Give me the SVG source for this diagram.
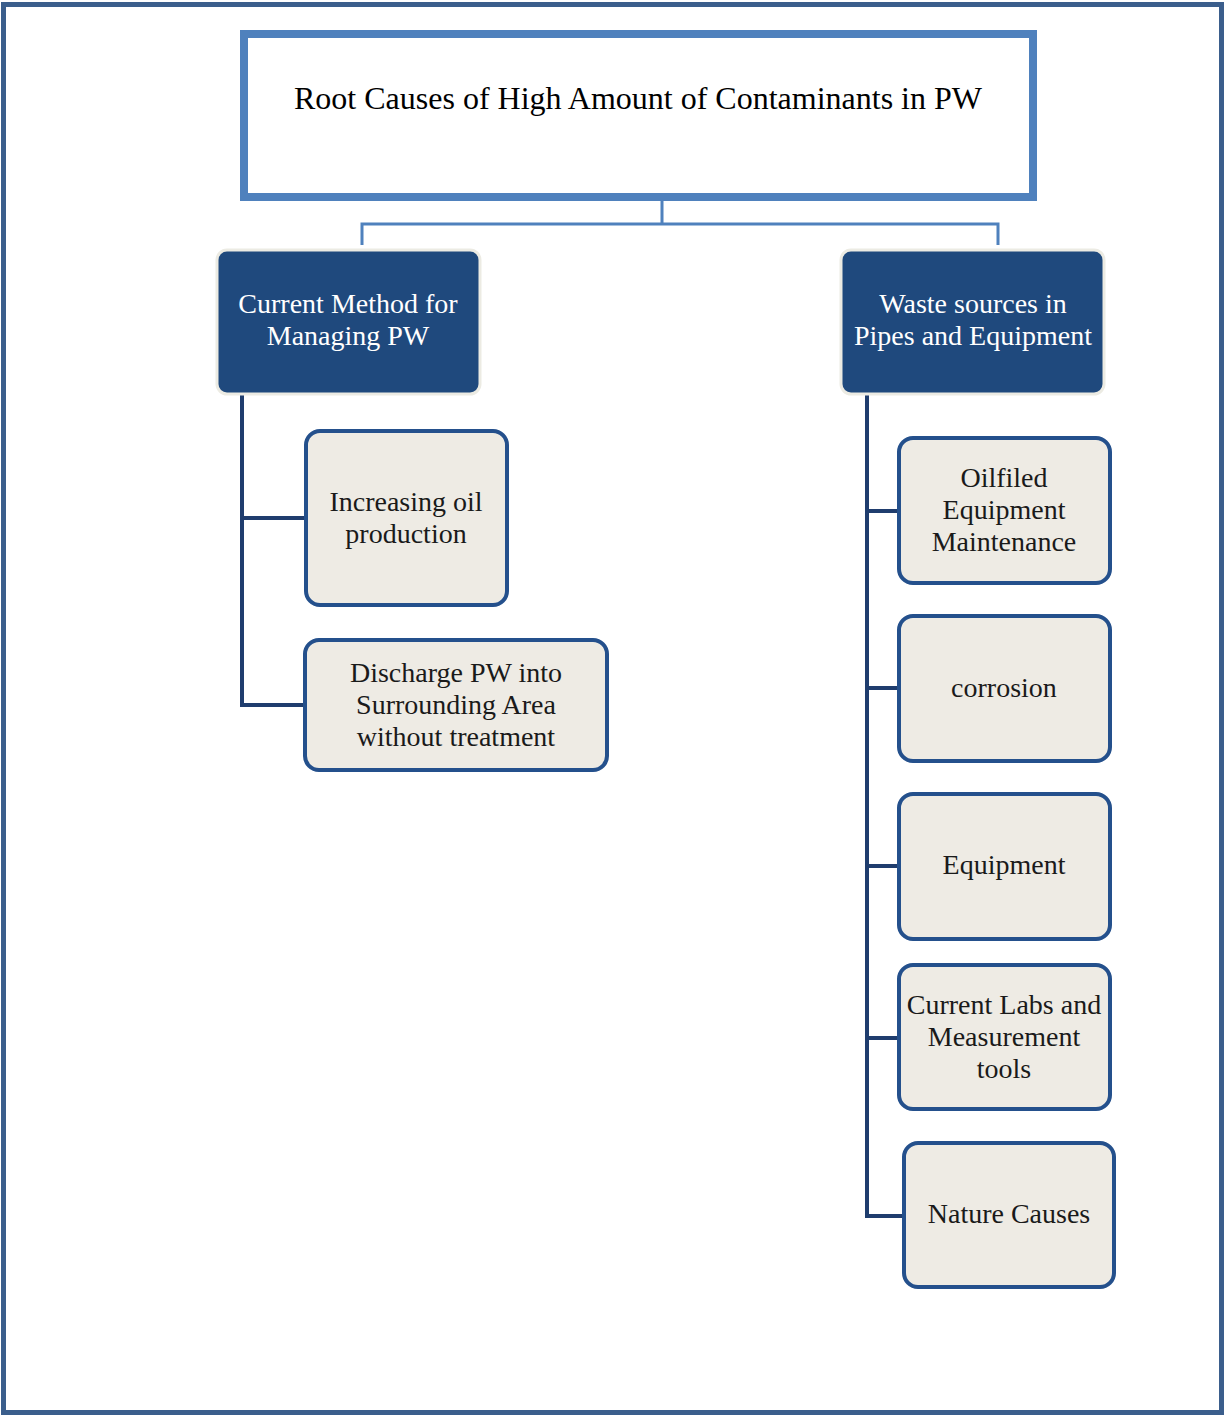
<svg xmlns="http://www.w3.org/2000/svg" width="1225" height="1416" viewBox="0 0 1225 1416">
  <style>
    .frame { fill: #ffffff; stroke: #3b5e8c; stroke-width: 5; }
    .title-box { fill: #ffffff; stroke: #4f81bd; stroke-width: 8; }
    .head { fill: #1f497d; stroke: #ecebe3; stroke-width: 3; }
    .item { fill: #eeebe4; stroke: #24508c; stroke-width: 4; }
    .bus { fill: none; stroke: #4f81bd; stroke-width: 3; }
    .branch { fill: none; stroke: #1f3d6e; stroke-width: 4; }
    text { font-family: "Liberation Serif", "Times New Roman", serif; text-anchor: middle; }
    .t-title { font-size: 32px; fill: #000000; }
    .t-head { font-size: 28px; fill: #ffffff; }
    .t-item { font-size: 28px; fill: #1a1a1a; }
  </style>

  <!-- page frame -->
  <rect class="frame" x="3.5" y="4.5" width="1218" height="1408"/>

  <!-- connectors -->
  <g id="connectors">
    <path class="bus" d="M662 201 V224 M362 245 V224 H998 V245"/>
    <path class="branch" d="M242 394 V705 H305 M242 518 H305"/>
    <path class="branch" d="M867 394 V1216 H903 M867 511 H898 M867 688 H898 M867 866 H898 M867 1038 H898"/>
  </g>

  <!-- root -->
  <g id="root">
    <rect class="title-box" x="244" y="34" width="789" height="163"/>
    <text class="t-title" x="638" y="109">Root Causes of High Amount of Contaminants in PW</text>
  </g>

  <!-- left branch -->
  <g id="current-method">
    <rect class="head" x="217" y="250" width="263" height="144" rx="10"/>
    <text class="t-head" x="348" y="313">Current Method for</text>
    <text class="t-head" x="348" y="345">Managing PW</text>
  </g>
  <g id="increasing-oil">
    <rect class="item" x="306" y="431" width="201" height="174" rx="14"/>
    <text class="t-item" x="406" y="511">Increasing oil</text>
    <text class="t-item" x="406" y="543">production</text>
  </g>
  <g id="discharge-pw">
    <rect class="item" x="305" y="640" width="302" height="130" rx="14"/>
    <text class="t-item" x="456" y="682">Discharge PW into</text>
    <text class="t-item" x="456" y="714">Surrounding Area</text>
    <text class="t-item" x="456" y="746">without treatment</text>
  </g>

  <!-- right branch -->
  <g id="waste-sources">
    <rect class="head" x="841" y="250" width="263" height="144" rx="10"/>
    <text class="t-head" x="973" y="313">Waste sources in</text>
    <text class="t-head" x="973" y="345">Pipes and Equipment</text>
  </g>
  <g id="oilfield-maintenance">
    <rect class="item" x="899" y="438" width="211" height="145" rx="14"/>
    <text class="t-item" x="1004" y="487">Oilfiled</text>
    <text class="t-item" x="1004" y="519">Equipment</text>
    <text class="t-item" x="1004" y="551">Maintenance</text>
  </g>
  <g id="corrosion">
    <rect class="item" x="899" y="616" width="211" height="145" rx="14"/>
    <text class="t-item" x="1004" y="697">corrosion</text>
  </g>
  <g id="equipment">
    <rect class="item" x="899" y="794" width="211" height="145" rx="14"/>
    <text class="t-item" x="1004" y="874">Equipment</text>
  </g>
  <g id="labs-tools">
    <rect class="item" x="899" y="965" width="211" height="144" rx="14"/>
    <text class="t-item" x="1004" y="1014">Current Labs and</text>
    <text class="t-item" x="1004" y="1046">Measurement</text>
    <text class="t-item" x="1004" y="1078">tools</text>
  </g>
  <g id="nature-causes">
    <rect class="item" x="904" y="1143" width="210" height="144" rx="14"/>
    <text class="t-item" x="1009" y="1223">Nature Causes</text>
  </g>
</svg>
